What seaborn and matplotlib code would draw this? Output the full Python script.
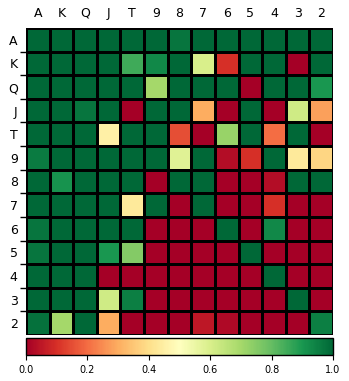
import numpy as np
import pandas as pd
import matplotlib
matplotlib.use("Agg")
import matplotlib.pyplot as plt
import seaborn as sns

ranks = ["A", "K", "Q", "J", "T", "9", "8", "7", "6", "5", "4", "3", "2"]

row_A = [1.0, 1.0, 1.0, 1.0, 1.0, 1.0, 0.97, 1.0, 1.0, 1.0, 1.0, 1.0, 1.0]
row_K = [1.0, 1.0, 1.0, 1.0, 0.85, 0.93, 1.0, 0.6, 0.1, 1.0, 1.0, 0.0, 1.0]
row_Q = [1.0, 1.0, 1.0, 1.0, 1.0, 0.7, 1.0, 1.0, 1.0, 0.0, 1.0, 1.0, 0.9]
row_J = [1.0, 1.0, 0.97, 1.0, 0.0, 1.0, 1.0, 0.3, 0.0, 1.0, 0.0, 0.62, 0.28]
row_T = [1.0, 1.0, 1.0, 0.45, 1.0, 1.0, 0.15, 0.0, 0.72, 1.0, 0.2, 1.0, 0.0]
row_9 = [0.96, 1.0, 1.0, 1.0, 1.0, 1.0, 0.58, 1.0, 0.03, 0.1, 1.0, 0.43, 0.38]
row_8 = [1.0, 0.91, 1.0, 1.0, 1.0, 0.0, 1.0, 1.0, 0.0, 0.0, 0.03, 1.0, 1.0]
row_7 = [1.0, 1.0, 1.0, 1.0, 0.43, 1.0, 0.0, 1.0, 0.0, 0.0, 0.1, 0.0, 0.0]
row_6 = [0.97, 1.0, 1.0, 1.0, 1.0, 0.0, 0.0, 0.0, 1.0, 0.0, 0.93, 0.0, 0.0]
row_5 = [0.97, 1.0, 1.0, 0.9, 0.75, 0.0, 0.0, 0.0, 0.0, 1.0, 0.0, 0.0, 0.0]
row_4 = [1.0, 1.0, 1.0, 0.0, 0.0, 0.0, 0.0, 0.0, 0.0, 0.0, 1.0, 0.0, 0.0]
row_3 = [1.0, 1.0, 1.0, 0.62, 0.95, 0.0, 0.0, 0.0, 0.0, 0.0, 0.0, 1.0, 0.0]
row_2 = [0.98, 0.7, 1.0, 0.3, 0.0, 0.0, 0.0, 0.05, 0.02, 0.0, 0.0, 0.0, 0.95]

data = pd.DataFrame(
    [row_A, row_K, row_Q, row_J, row_T, row_9, row_8, row_7, row_6, row_5, row_4, row_3, row_2],
    index=ranks, columns=ranks,
)

W, H = 349, 381
fig = plt.figure(figsize=(W / 100, H / 100), dpi=100)
ax = fig.add_axes([26 / W, 1 - 335 / H, 307 / W, 307 / H])
cax = fig.add_axes([26 / W, 1 - 355 / H, 307 / W, 17 / H])

sns.heatmap(
    data, ax=ax, cmap="RdYlGn", vmin=0, vmax=1,
    linewidths=0.9, linecolor="black", square=False,
    cbar=True, cbar_ax=cax, cbar_kws={"orientation": "horizontal", "ticks": [0, 0.2, 0.4, 0.6, 0.8, 1.0]},
)

ax.xaxis.tick_top()
ax.tick_params(axis="x", which="major", length=0, labelsize=9, pad=6, rotation=0)

# y: labels on minor ticks at row centres, tick marks on major ticks at row boundaries
ax.set_yticks(np.arange(len(ranks)) + 0.5, labels=ranks, minor=True)
ax.set_yticks(np.arange(1, len(ranks)), labels=[""] * (len(ranks) - 1))
ax.tick_params(axis="y", which="minor", length=0, labelsize=9, pad=6, rotation=0)
ax.tick_params(axis="y", which="major", left=True, length=4, width=1, color="black")
ax.set_xlabel("")
ax.set_ylabel("")

cax.tick_params(labelsize=7, length=3.5, width=0.8)
cax.set_xticklabels(["0.0", "0.2", "0.4", "0.6", "0.8", "1.0"])
cb = ax.collections[0].colorbar
cb.outline.set_edgecolor("black")
cb.outline.set_linewidth(1)

fig.savefig("out.png", dpi=100)
